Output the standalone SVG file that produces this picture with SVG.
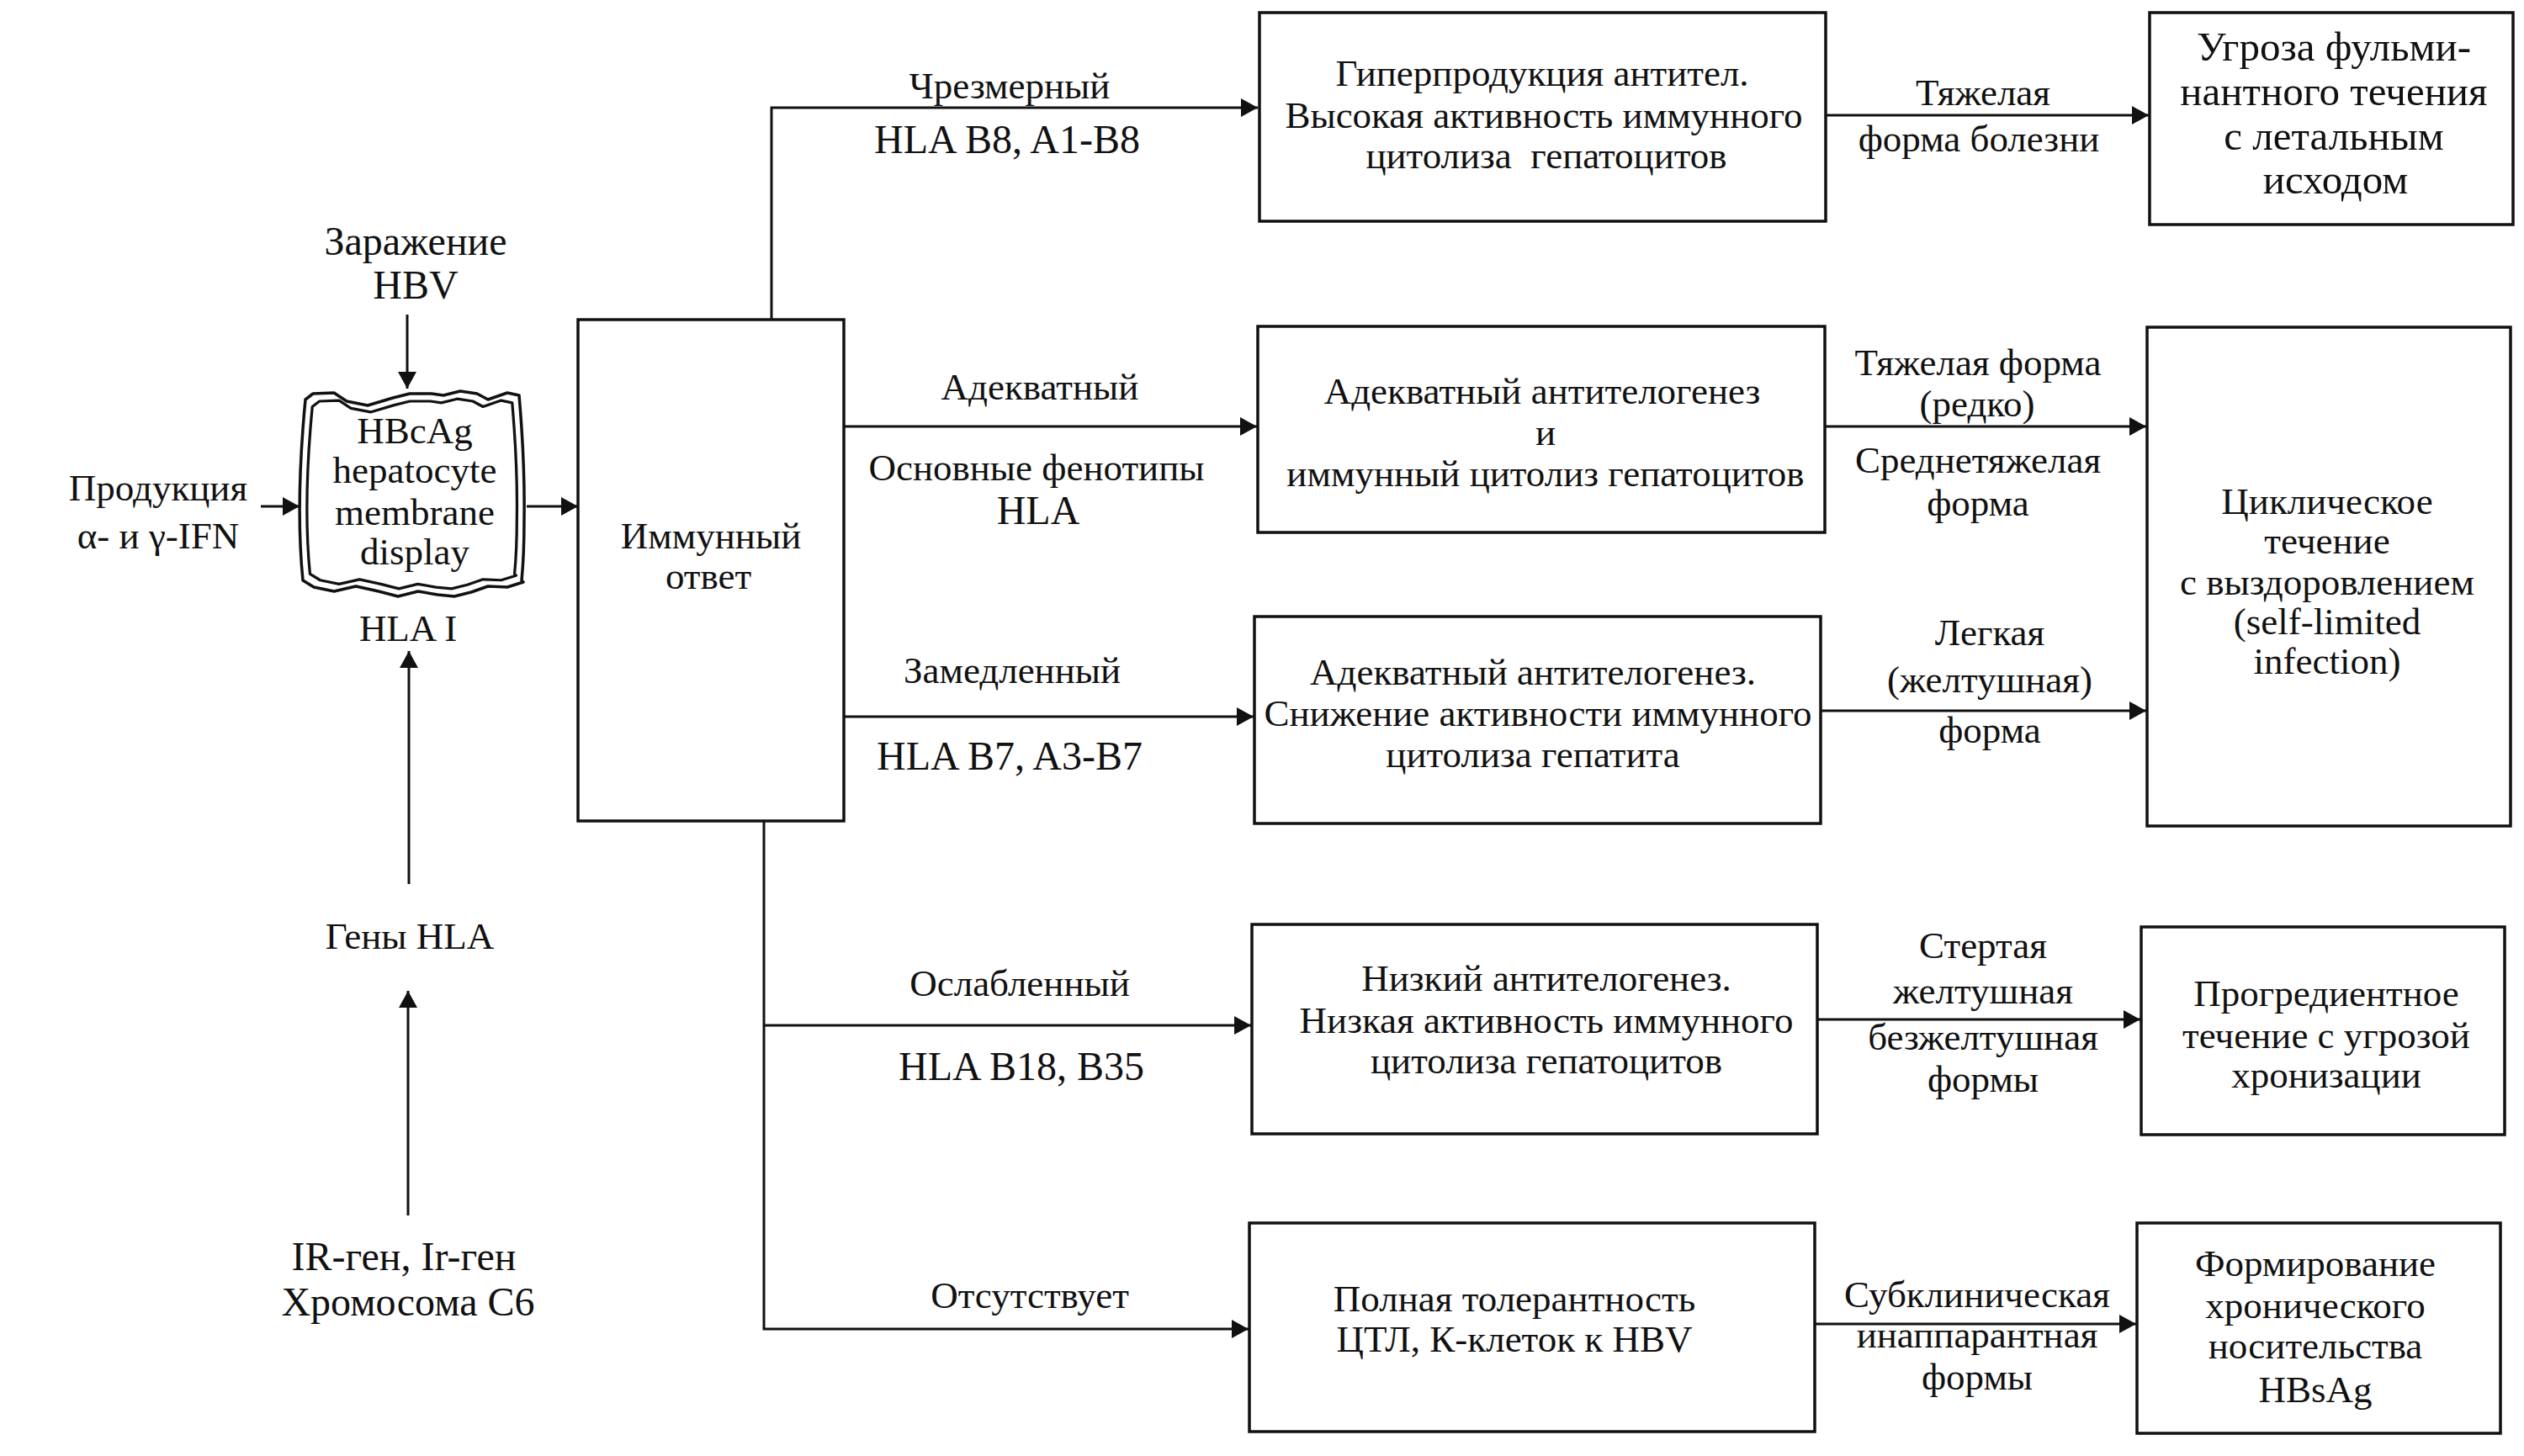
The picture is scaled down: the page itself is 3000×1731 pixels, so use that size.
<svg xmlns="http://www.w3.org/2000/svg" width="3000" height="1731" viewBox="0 0 3000 1731">
<defs>
<style>
text{font-family:"Liberation Serif","Times New Roman",serif;font-size:45px;fill:#111;text-anchor:middle}
.l{font-size:48px}
.b{font-size:49px}
.box{fill:none;stroke:#111;stroke-width:3.5}
.ln{fill:none;stroke:#111;stroke-width:3}
.mem{fill:none;stroke:#111;stroke-width:3.5;stroke-linejoin:round}
</style>
<marker id="ah" markerUnits="userSpaceOnUse" markerWidth="20" markerHeight="22" viewBox="0 0 20 22" refX="20" refY="11" orient="auto">
<path d="M0,0 L20,11 L0,22 Z" fill="#111"/>
</marker>
<path id="memShape" d="M363,475 L372,468 L397,467 L412,477 L437,482 L467,473 L487,468 L513,468 L527,470 L547,465 L567,468 L580,475 L603,467 L617,470 Q624,550 623,617 Q623,660 620,690 L622,692 L603,698 L580,697 L560,704 L540,709 L520,707 L497,703 L473,709 L450,703 L423,697 L397,703 L373,698 L360,690 Q351,600 363,475 Z"/>
</defs>

<g id="connectors">
<path class="ln" d="M484,374 L484,462" marker-end="url(#ah)"/>
<path class="ln" d="M310,602 L356,602" marker-end="url(#ah)"/>
<path class="ln" d="M626,602 L687,602" marker-end="url(#ah)"/>
<path class="ln" d="M486,1051 L486,774" marker-end="url(#ah)"/>
<path class="ln" d="M485,1445 L485,1178" marker-end="url(#ah)"/>
<path class="ln" d="M917,380 L917,128 L1495,128" marker-end="url(#ah)"/>
<path class="ln" d="M1003,507 L1494,507" marker-end="url(#ah)"/>
<path class="ln" d="M1003,852 L1490,852" marker-end="url(#ah)"/>
<path class="ln" d="M908,976 L908,1580 L1484,1580" marker-end="url(#ah)"/>
<path class="ln" d="M908,1219 L1487,1219" marker-end="url(#ah)"/>
<path class="ln" d="M2170,137 L2554,137" marker-end="url(#ah)"/>
<path class="ln" d="M2169,507 L2551,507" marker-end="url(#ah)"/>
<path class="ln" d="M2164,845 L2551,845" marker-end="url(#ah)"/>
<path class="ln" d="M2160,1212 L2544,1212" marker-end="url(#ah)"/>
<path class="ln" d="M2157,1574 L2539,1574" marker-end="url(#ah)"/>
</g>

<g id="labels">
<text x="1200" y="117" font-size="46">Чрезмерный</text>
<text x="1197" y="182" class="l">HLA B8, A1-B8</text>
<text x="1236" y="475">Адекватный</text>
<text x="1232" y="571">Основные фенотипы</text>
<text x="1234" y="623" class="l">HLA</text>
<text x="1203" y="812">Замедленный</text>
<text x="1200" y="915" class="l">HLA B7, A3-B7</text>
<text x="1212" y="1184">Ослабленный</text>
<text x="1214" y="1284" class="l">HLA B18, B35</text>
<text x="1224" y="1555">Отсутствует</text>
<text x="2357" y="125">Тяжелая</text>
<text x="2352" y="180">форма болезни</text>
<text x="2351" y="446">Тяжелая форма</text>
<text x="2350" y="495">(редко)</text>
<text x="2351" y="562">Среднетяжелая</text>
<text x="2351" y="613">форма</text>
<text x="2365" y="767">Легкая</text>
<text x="2365" y="823">(желтушная)</text>
<text x="2365" y="883">форма</text>
<text x="2357" y="1139">Стертая</text>
<text x="2357" y="1193">желтушная</text>
<text x="2357" y="1248">безжелтушная</text>
<text x="2357" y="1298">формы</text>
<text x="2350" y="1554">Субклиническая</text>
<text x="2350" y="1602">инаппарантная</text>
<text x="2350" y="1652">формы</text>
</g>

<g id="infection">
<text x="494" y="303" class="l">Заражение</text>
<text x="494" y="355" class="l">HBV</text>
</g>

<g id="ifn">
<text x="188" y="595" font-size="46">Продукция</text>
<text x="188" y="652" font-size="46">α- и γ-IFN</text>
</g>

<g id="membrane">
<use href="#memShape" class="mem"/>
<use href="#memShape" class="mem" transform="translate(490,588) scale(0.935,0.925) translate(-490,-588)"/>
<text x="493" y="527" font-size="46">HBcAg</text>
<text x="493" y="574" font-size="46">hepatocyte</text>
<text x="493" y="624" font-size="46">membrane</text>
<text x="493" y="671" font-size="46">display</text>
</g>

<g id="hla1">
<text x="485" y="762" font-size="46">HLA I</text>
</g>

<g id="genes">
<text x="487" y="1128">Гены HLA</text>
</g>

<g id="chromosome">
<text x="480" y="1510" class="l">IR-ген, Ir-ген</text>
<text x="485" y="1564" class="l">Хромосома С6</text>
</g>

<g id="immune">
<rect class="box" x="687" y="380" width="316" height="596"/>
<text x="845" y="652">Иммунный</text>
<text x="842" y="700">ответ</text>
</g>

<g id="box1">
<rect class="box" x="1497" y="15" width="673" height="248"/>
<text x="1833" y="102">Гиперпродукция антител.</text>
<text x="1835" y="152">Высокая активность иммунного</text>
<text x="1838" y="200" xml:space="preserve">цитолиза  гепатоцитов</text>
</g>

<g id="box2">
<rect class="box" x="1495" y="388" width="674" height="245"/>
<text x="1833" y="480">Адекватный антителогенез</text>
<text x="1837" y="529">и</text>
<text x="1837" y="578">иммунный цитолиз гепатоцитов</text>
</g>

<g id="box3">
<rect class="box" x="1491" y="733" width="673" height="246"/>
<text x="1822" y="814">Адекватный антителогенез.</text>
<text x="1828" y="863">Снижение активности иммунного</text>
<text x="1822" y="912">цитолиза гепатита</text>
</g>

<g id="box4">
<rect class="box" x="1488" y="1099" width="672" height="249"/>
<text x="1838" y="1178">Низкий антителогенез.</text>
<text x="1838" y="1228">Низкая активность иммунного</text>
<text x="1838" y="1276">цитолиза гепатоцитов</text>
</g>

<g id="box5">
<rect class="box" x="1485" y="1454" width="672" height="248"/>
<text x="1800" y="1559">Полная толерантность</text>
<text x="1800" y="1607">ЦТЛ, К-клеток к HBV</text>
</g>

<g id="box7">
<rect class="box" x="2555" y="15" width="432" height="252"/>
<text x="2774" y="72" class="b">Угроза фульми-</text>
<text x="2774" y="125" class="b">нантного течения</text>
<text x="2774" y="178" class="b">с летальным</text>
<text x="2776" y="230" class="b">исходом</text>
</g>

<g id="box6">
<rect class="box" x="2552" y="389" width="432" height="593"/>
<text x="2766" y="611">Циклическое</text>
<text x="2766" y="658">течение</text>
<text x="2766" y="707">с выздоровлением</text>
<text x="2766" y="754">(self-limited</text>
<text x="2766" y="801">infection)</text>
</g>

<g id="box9">
<rect class="box" x="2545" y="1102" width="432" height="247"/>
<text x="2765" y="1196">Прогредиентное</text>
<text x="2765" y="1246">течение с угрозой</text>
<text x="2765" y="1293">хронизации</text>
</g>

<g id="box10">
<rect class="box" x="2540" y="1454" width="432" height="250"/>
<text x="2752" y="1517">Формирование</text>
<text x="2752" y="1567">хронического</text>
<text x="2752" y="1615">носительства</text>
<text x="2752" y="1667">HBsAg</text>
</g>
</svg>
